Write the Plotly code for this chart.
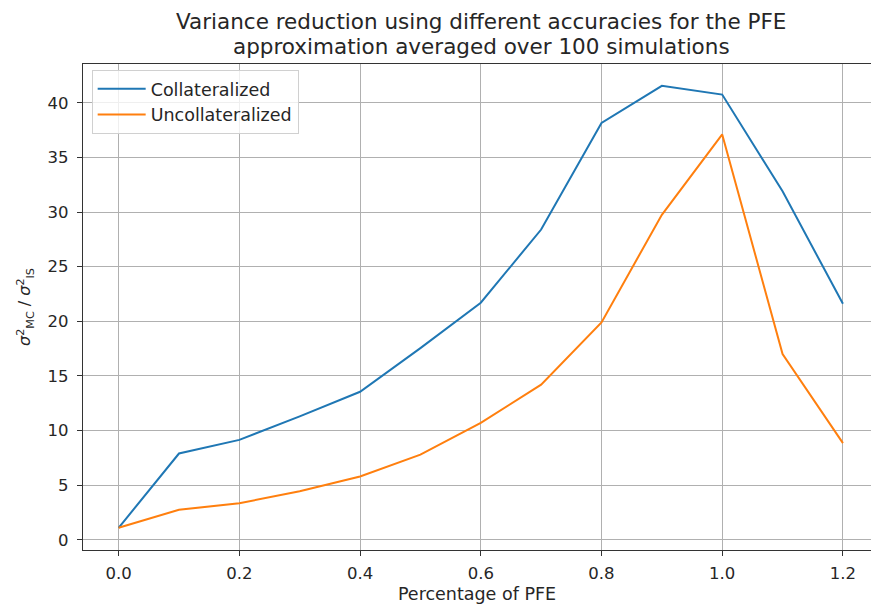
import plotly.graph_objects as go

# Fraction of the PFE used for the importance-sampling shift
pfe_fraction = [0.0, 0.1, 0.2, 0.3, 0.4, 0.5, 0.6, 0.7, 0.8, 0.9, 1.0, 1.1, 1.2]

# Variance ratio sigma_MC^2 / sigma_IS^2, averaged over 100 simulations
collateralized = [1.1, 7.9, 9.15, 11.3, 13.55, 17.55, 21.7, 28.4, 38.15, 41.55, 40.75, 31.9, 21.6]
uncollateralized = [1.1, 2.75, 3.35, 4.45, 5.8, 7.8, 10.7, 14.2, 19.9, 29.75, 37.1, 17.0, 8.85]

x_ticks = [0.0, 0.2, 0.4, 0.6, 0.8, 1.0, 1.2]
x_tick_text = ["0.0", "0.2", "0.4", "0.6", "0.8", "1.0", "1.2"]
y_ticks = [0, 5, 10, 15, 20, 25, 30, 35, 40]

FONT = "DejaVu Sans"
TEXT = "#262626"

fig = go.Figure()
fig.add_trace(go.Scatter(x=pfe_fraction, y=collateralized, mode="lines",
                         name="Collateralized", legendgroup="c",
                         line=dict(color="#1f77b4", width=2)))
fig.add_trace(go.Scatter(x=pfe_fraction, y=uncollateralized, mode="lines",
                         name="Uncollateralized", legendgroup="u",
                         line=dict(color="#ff7f0e", width=2)))

axis_common = dict(
    showgrid=True, gridcolor="#b0b0b0", gridwidth=1,
    zeroline=False, showline=True, linecolor="#333333", linewidth=1.2,
    ticks="outside", ticklen=5, tickwidth=1, tickcolor="#333333",
    tickfont=dict(family=FONT, size=16.5, color=TEXT),
)

fig.update_layout(
    width=871, height=610,
    margin=dict(l=83, r=0, t=64, b=60),
    paper_bgcolor="white", plot_bgcolor="white",
    font=dict(family=FONT, size=16.5, color=TEXT),
    xaxis=dict(range=[-0.059, 1.2465], tickvals=x_ticks, ticktext=x_tick_text,
               mirror=True, ticklabelstandoff=3,
               title=dict(text="Percentage of PFE", standoff=5,
                          font=dict(family=FONT, size=17.5)),
               **axis_common),
    yaxis=dict(range=[-0.93, 43.55], tickvals=y_ticks, ticklabelstandoff=5,
               title=dict(text="<i>σ</i><sup>2</sup><sub>MC</sub> / <i>σ</i><sup>2</sup><sub>IS</sub>",
                          standoff=12, font=dict(family=FONT, size=16)),
               **axis_common),
    legend=dict(x=0.011, y=0.988, xanchor="left", yanchor="top",
                bgcolor="rgba(255,255,255,0.8)", bordercolor="#d0d0d0",
                borderwidth=1, font=dict(family=FONT, size=17.5, color=TEXT),
                tracegroupgap=0, itemwidth=48),
    showlegend=True,
)

# Two-line centred title above the axes
title_x = (481 - 83) / 788
fig.add_annotation(text="Variance reduction using different accuracies for the PFE",
                   xref="paper", yref="paper", x=title_x, y=1.0,
                   yshift=43, xanchor="center", yanchor="middle", showarrow=False,
                   font=dict(family=FONT, size=21.5, color=TEXT))
fig.add_annotation(text="approximation averaged over 100 simulations",
                   xref="paper", yref="paper", x=title_x, y=1.0,
                   yshift=18, xanchor="center", yanchor="middle", showarrow=False,
                   font=dict(family=FONT, size=21.5, color=TEXT))

fig.write_html("out.html")
